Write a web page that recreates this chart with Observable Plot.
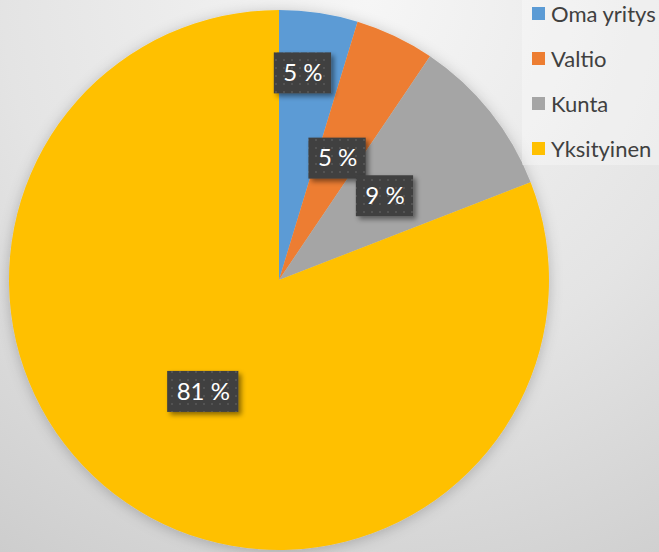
<!DOCTYPE html>
<html><head><meta charset="utf-8">
<script src="https://cdn.jsdelivr.net/npm/d3@7"></script>
<script src="https://cdn.jsdelivr.net/npm/@observablehq/plot@0.6"></script>
<style>
html,body{margin:0;padding:0}
#chart{position:relative;width:659px;height:552px;overflow:hidden;
background: radial-gradient(circle farthest-corner at 56% 0%, #f6f6f6 0%, #e4e4e4 55%, #cdcdcd 100%);
font-family: Lato, sans-serif;}
#chart svg{position:absolute;left:0;top:0}
#legend{position:absolute;left:522px;top:0;width:137px;height:165px;background:rgba(255,255,255,0.3)}
.item{position:absolute;left:10px;height:26px;display:flex;align-items:center;font-size:22px;color:#404040;white-space:nowrap}
.sw{width:13px;height:13px;margin-right:6px;flex:none}
</style></head>
<body><div id="chart"></div>
<script>
const categories = ["Oma yritys", "Valtio", "Kunta", "Yksityinen"];
const values = [4.7, 4.75, 9.65, 80.9];
const labels = ["5 %", "5 %", "9 %", "81 %"];
const colors = ["#5b9bd5", "#ed7d31", "#a5a5a5", "#ffc000"];

const colorScale = Plot.scale({color: {domain: categories, range: colors}});
const arcs = d3.pie().sort(null).value((d, i) => values[i])(categories);

// label placement (layout only)
const placement = {"Oma yritys": {r: 0.772, shift: -2}};
const labelRows = arcs.map((a, i) => {
  const p = placement[a.data] || {r: 0.5, shift: 0};
  const ang = (a.startAngle + a.endAngle) / 2 + p.shift * Math.PI / 180;
  return {category: a.data, label: labels[i], x: p.r * Math.sin(ang), y: p.r * Math.cos(ang)};
});

const FS = 24;

function pieMark(index, scales) {
  const cx = scales.x(0), cy = scales.y(0), r = Math.abs(scales.x(1) - scales.x(0));
  const g = d3.create("svg:g");
  const f = g.append("defs").append("filter").attr("id", "pieShadow")
    .attr("x", "-20%").attr("y", "-20%").attr("width", "140%").attr("height", "140%");
  f.append("feDropShadow").attr("dx", 0).attr("dy", 2).attr("stdDeviation", 7)
    .attr("flood-color", "#000").attr("flood-opacity", 0.22);
  g.append("g").attr("transform", `translate(${cx},${cy})`).attr("filter", "url(#pieShadow)")
    .selectAll("path").data(arcs).join("path")
    .attr("d", d3.arc().innerRadius(0).outerRadius(r))
    .attr("fill", d => colorScale.apply(d.data));
  return g.node();
}

function boxMark(index, scales) {
  const ctx = document.createElement("canvas").getContext("2d");
  ctx.font = `${FS}px Lato`;
  const g = d3.create("svg:g");
  const defs = g.append("defs");
  const pat = defs.append("pattern").attr("id", "dots").attr("patternUnits", "userSpaceOnUse")
    .attr("width", 8).attr("height", 8);
  pat.append("rect").attr("width", 8).attr("height", 8).attr("fill", "#404040");
  pat.append("rect").attr("x", 3).attr("y", 3).attr("width", 2).attr("height", 2).attr("fill", "#535353");
  const f = defs.append("filter").attr("id", "boxShadow")
    .attr("x", "-30%").attr("y", "-30%").attr("width", "160%").attr("height", "160%");
  f.append("feDropShadow").attr("dx", 3).attr("dy", 3).attr("stdDeviation", 2.5)
    .attr("flood-color", "#000").attr("flood-opacity", 0.45);
  const pad = 9, h = 41;
  g.selectAll("rect.box").data(labelRows).join("rect").attr("class", "box")
    .each(function(d) {
      const w = ctx.measureText(d.label).width + 2 * pad;
      d3.select(this)
        .attr("x", scales.x(d.x) - w / 2).attr("y", scales.y(d.y) - h / 2)
        .attr("width", w).attr("height", h);
    })
    .attr("fill", "url(#dots)").attr("filter", "url(#boxShadow)");
  return g.node();
}

const plot = Plot.plot({
  width: 659, height: 552,
  marginLeft: 9, marginRight: 110, marginTop: 10, marginBottom: 2,
  x: {domain: [-1, 1], axis: null},
  y: {domain: [-1, 1], axis: null},
  style: {background: "transparent", overflow: "visible"},
  marks: [
    pieMark,
    boxMark,
    Plot.text(labelRows, {x: "x", y: "y", text: "label", fill: "white", fontSize: FS, fontFamily: "Lato"})
  ]
});

const chart = document.getElementById("chart");
chart.appendChild(plot);
const legend = document.createElement("div");
legend.id = "legend";
categories.forEach((c, i) => {
  const it = document.createElement("div");
  it.className = "item";
  it.style.top = (13 + 45 * i - 13) + "px";
  const sw = document.createElement("div");
  sw.className = "sw";
  sw.style.background = colorScale.apply(c);
  const t = document.createElement("span");
  t.textContent = c;
  it.appendChild(sw); it.appendChild(t);
  legend.appendChild(it);
});
chart.appendChild(legend);
</script>
</body></html>
